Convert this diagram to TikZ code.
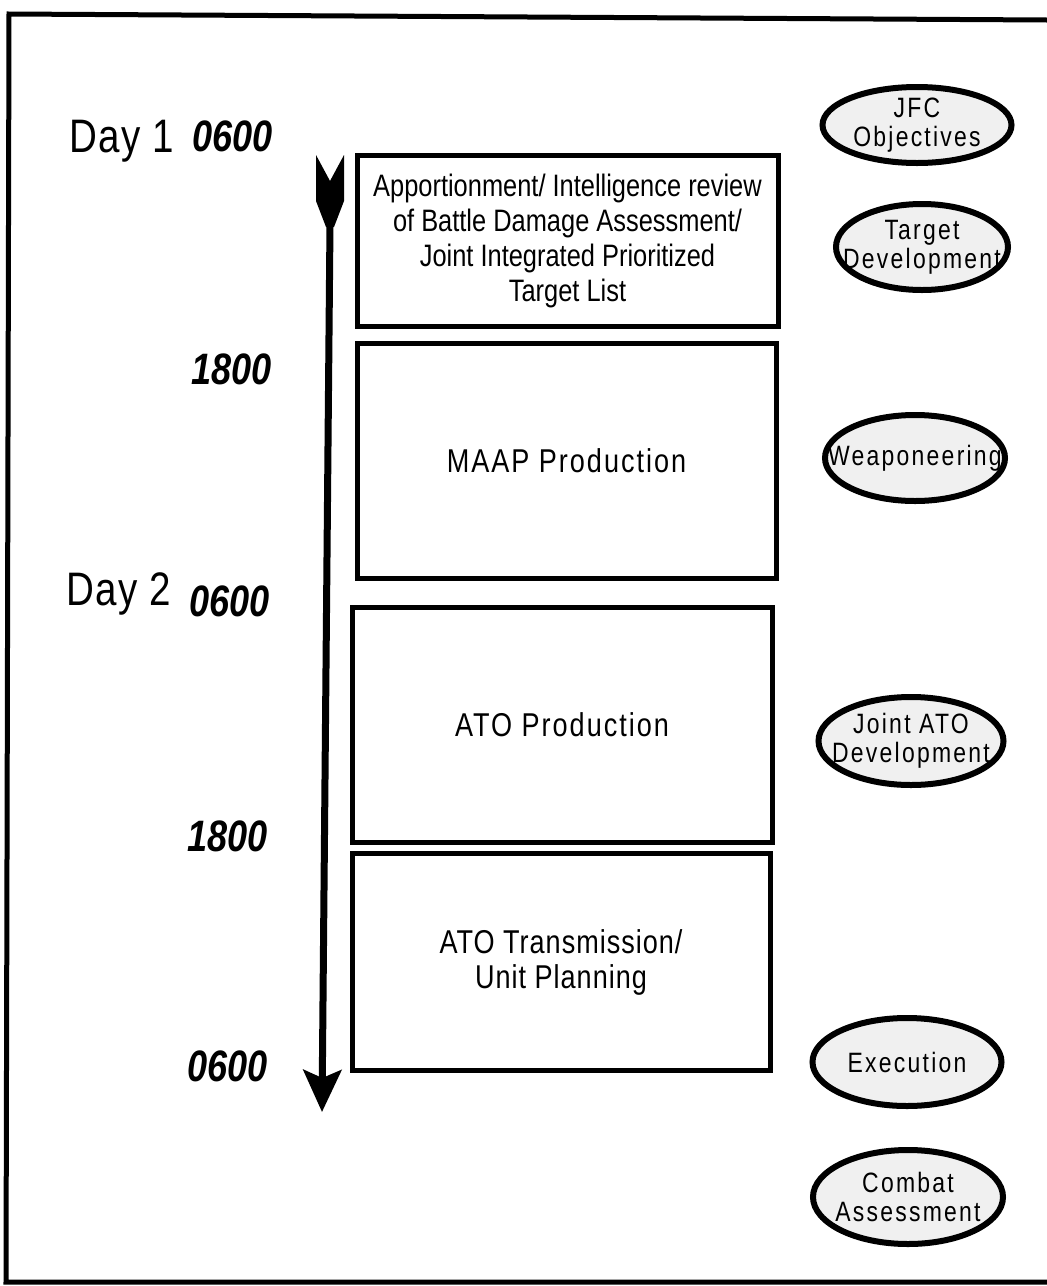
\documentclass[tikz,border=0pt]{standalone}
\usepackage{fontspec}
\setmainfont{Liberation Sans}[FakeStretch=0.82]
\usetikzlibrary{arrows.meta,shapes.geometric}
\begin{document}
\begin{tikzpicture}[x=0.5pt,y=-0.5pt,
  stage/.style={draw, line width=2.5pt, inner sep=0pt, align=center,
    font=\fontsize{15.5}{17.5}\selectfont},
  widetext/.style={font=\fontsize{16.5}{17.5}\selectfont\addfontfeature{LetterSpace=6}},
  midtext/.style={font=\fontsize{16.5}{17.5}\selectfont\addfontfeature{LetterSpace=3}},
  phase/.style={ellipse, draw, line width=3pt, fill=gray!12, inner sep=0pt},
  phasetext/.style={inner sep=0pt, align=center,
    font=\fontsize{14}{14.5}\selectfont\addfontfeature{LetterSpace=8}},
  daylbl/.style={anchor=base west, inner sep=0pt, font=\fontsize{23.5}{26}\selectfont\addfontfeature{LetterSpace=3}},
  timelbl/.style={anchor=base east, inner sep=0pt, font=\fontsize{22}{26}\selectfont\bfseries\itshape},
  frame/.style={line width=2.5pt}]
\useasboundingbox (0,0) rectangle (1047,1286);
\clip (0,0) rectangle (1047,1286);
\fill[white] (0,0) rectangle (1047,1286);
% frame
\draw[frame] (1047,20) -- (9,14) -- (6,1282) -- (1047,1282);
% time labels
\node[daylbl] (d1) at (69,152) {Day 1};
\node[timelbl] (t1) at (273,151) {0600};
\node[timelbl] (t2) at (272,384) {1800};
\node[daylbl] (d2) at (66,605) {Day 2};
\node[timelbl] (t3) at (270,616) {0600};
\node[timelbl] (t4) at (268,851) {1800};
\node[timelbl] (t5) at (268,1081) {0600};
% timeline arrow
\coordinate (atop) at (330,224);
\coordinate (abot) at (322,1112);
\fill (316,155) -- (330,181) -- (344,155) -- (344,201) -- (334,227) -- (326,227) -- (316,201) -- cycle;
\draw[line width=3.5pt, -{Stealth[length=21pt,width=19pt,inset=4pt]}] (atop) -- (abot);
% boxes
\node[stage, minimum width=210.5pt, minimum height=85.5pt] (b1) at (567.5,240.5)
  {Apportionment/ Intelligence review\\ of Battle Damage Assessment/\\ Joint Integrated Prioritized\\ Target List};
\node[stage, widetext, minimum width=209.5pt, minimum height=117.5pt] (b2) at (566.5,460.5) {MAAP Production};
\node[stage, widetext, minimum width=210pt, minimum height=117.5pt] (b3) at (562,724.5) {ATO Production};
\node[stage, midtext, minimum width=209pt, minimum height=108.5pt] (b4) at (561,962) {ATO Transmission/\\ Unit Planning};
% ellipses
\node[phase, minimum width=94.5pt, minimum height=38pt] (e1) at (917,125) {};
\node[phasetext] (l1) at (e1.center) {JFC\\Objectives};
\node[phase, minimum width=86pt, minimum height=43pt] (e2) at (922,247) {};
\node[phasetext] (l2) at (e2.center) {Target\\Development};
\node[phase, minimum width=90pt, minimum height=43pt] (e3) at (915,458) {};
\node[phasetext] (l3) at (e3.center) {Weaponeering};
\node[phase, minimum width=92.5pt, minimum height=44pt] (e4) at (911,741) {};
\node[phasetext] (l4) at (e4.center) {Joint ATO\\Development};
\node[phase, minimum width=94.5pt, minimum height=44pt] (e5) at (907,1062) {};
\node[phasetext] (l5) at (e5.center) {Execution};
\node[phase, minimum width=95pt, minimum height=47pt] (e6) at (908,1197) {};
\node[phasetext] (l6) at (e6.center) {Combat\\Assessment};
\end{tikzpicture}
\end{document}
